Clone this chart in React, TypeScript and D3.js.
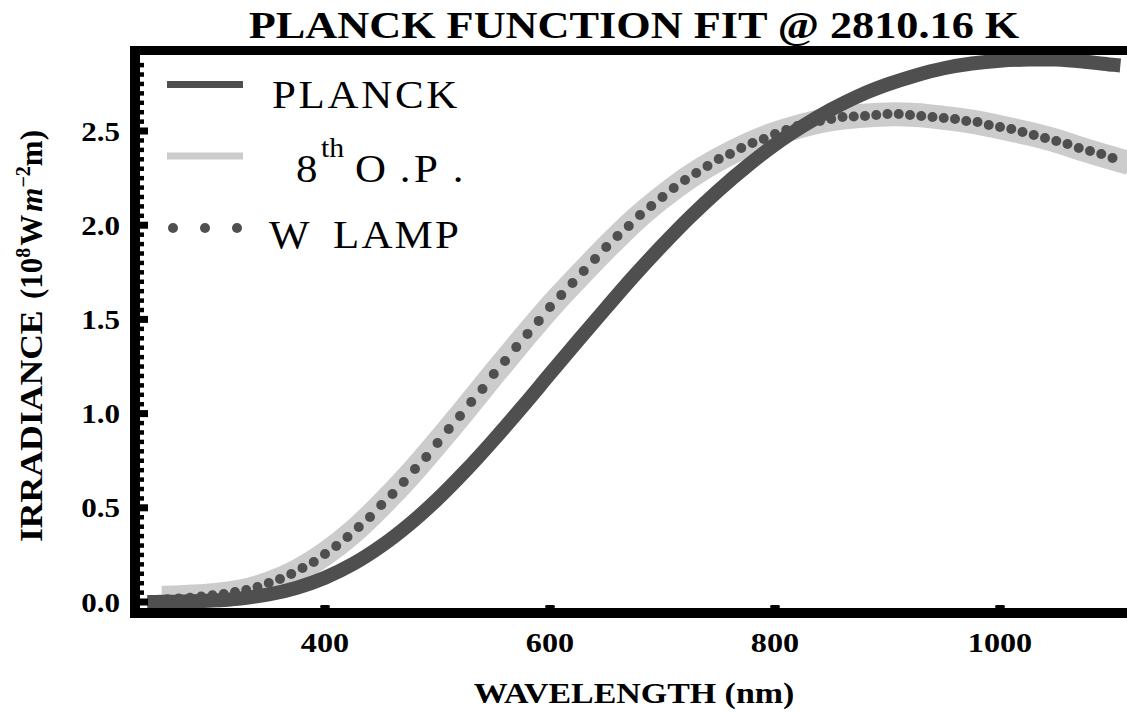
import React from 'react';
import * as d3 from 'd3';

const WIDTH = 1127;
const HEIGHT = 713;

// Planck curve, 1e8 W m^-2 m
const PLANCK_WL = [242, 250, 275, 300, 325, 350, 375, 400, 425, 450, 475, 500, 525, 550, 575, 600, 625, 650, 675, 700,
  725, 750, 775, 800, 825, 850, 875, 900, 925, 950, 975, 1000, 1025, 1050, 1075, 1100, 1107];
const PLANCK_VAL = [0.0003, 0.0006, 0.0025, 0.0076, 0.019, 0.040, 0.076, 0.129, 0.202, 0.297, 0.412, 0.546, 0.697, 0.861,
  1.033, 1.211, 1.388, 1.562, 1.733, 1.894, 2.046, 2.186, 2.313, 2.428, 2.527, 2.614, 2.688, 2.747, 2.795, 2.833,
  2.858, 2.873, 2.879, 2.879, 2.868, 2.852, 2.848];

// 8th order polynomial fit
const POLY_WL = [255, 275, 300, 325, 350, 375, 400, 425, 450, 475, 500, 525, 550, 575, 600, 625, 650, 675, 700, 725,
  750, 775, 800, 825, 850, 875, 900, 925, 950, 975, 1000, 1025, 1050, 1075, 1100, 1115];
const POLY_VAL = [0.022, 0.026, 0.036, 0.056, 0.098, 0.163, 0.255, 0.372, 0.515, 0.672, 0.845, 1.025, 1.21, 1.39,
  1.565, 1.725, 1.88, 2.025, 2.15, 2.26, 2.35, 2.425, 2.485, 2.53, 2.563, 2.58, 2.588, 2.585, 2.57, 2.55, 2.52,
  2.487, 2.448, 2.40, 2.355, 2.33];

// W lamp measurements
const LAMP_WL = [250, 260, 270, 280, 290, 300, 310, 320, 330, 340, 350, 360, 370, 380, 390, 400, 410, 420, 430, 440,
  450, 460, 470, 480, 490, 500, 510, 520, 530, 540, 550, 560, 570, 580, 590, 600, 610, 620, 630, 640,
  650, 660, 670, 680, 690, 700, 710, 720, 730, 740, 750, 760, 770, 780, 790, 800, 810, 820, 830, 840,
  850, 860, 870, 880, 890, 900, 910, 920, 930, 940, 950, 960, 970, 980, 990, 1000, 1010, 1020, 1030, 1040,
  1050, 1060, 1070, 1080, 1090, 1100];
const LAMP_VAL = [0.010, 0.014, 0.018, 0.023, 0.029, 0.036, 0.042, 0.053, 0.064, 0.080, 0.101, 0.122, 0.149, 0.180,
  0.212, 0.255, 0.297, 0.345, 0.398, 0.451, 0.515, 0.573, 0.637, 0.706, 0.770, 0.844, 0.918, 0.987, 1.062, 1.131,
  1.210, 1.279, 1.353, 1.423, 1.492, 1.566, 1.629, 1.693, 1.757, 1.821, 1.884, 1.943, 1.996, 2.054, 2.102, 2.150,
  2.197, 2.240, 2.277, 2.314, 2.351, 2.378, 2.410, 2.436, 2.458, 2.484, 2.505, 2.527, 2.542, 2.553, 2.564, 2.574,
  2.577, 2.580, 2.585, 2.590, 2.590, 2.585, 2.580, 2.574, 2.569, 2.564, 2.553, 2.548, 2.532, 2.521, 2.511, 2.495,
  2.479, 2.463, 2.447, 2.431, 2.410, 2.394, 2.378, 2.357];

const X_TICKS = [400, 600, 800, 1000];
const Y_TICKS = [0, 0.5, 1, 1.5, 2, 2.5];
const Y_TICK_LABELS = ['0.0', '0.5', '1.0', '1.5', '2.0', '2.5'];

const DARK = '#4f4f4f';
const LIGHT = '#cccccc';
const SERIF = "'Liberation Serif', 'Times New Roman', serif";
const STRETCH = 1.15;

// thin serif legend text, slightly widened
function LegendText({ text, x, y, size = 39, spacing = 2.5, anchor = 'start' }:
  { text: string; x: number; y: number; size?: number; spacing?: number; anchor?: string }) {
  return (
    <text transform={`translate(${x},${y}) scale(1.1,1)`} textAnchor={anchor} letterSpacing={spacing}
      fontFamily={SERIF} fontSize={size}>{text}</text>
  );
}

export default function App() {
  const x = d3.scaleLinear().domain([400, 1000]).range([325, 1000]);
  const y = d3.scaleLinear().domain([0, 2.5]).range([602, 131]);

  const line = d3.line<[number, number]>()
    .x(d => x(d[0]))
    .y(d => y(d[1]))
    .curve(d3.curveCatmullRom);

  const planck = line(PLANCK_WL.map((w, i) => [w, PLANCK_VAL[i]] as [number, number])) || '';
  const poly = line(POLY_WL.map((w, i) => [w, POLY_VAL[i]] as [number, number])) || '';

  // plot box
  const left = 140, top = 55, bottom = 608;
  const minorTicks = d3.range(0.05, 2.9, 0.05).filter(v => Math.abs(v * 2 - Math.round(v * 2)) > 0.01);

  return (
    <svg width={WIDTH} height={HEIGHT} style={{ position: 'absolute', left: 0, top: 0, background: '#fff' }}>
      <defs>
        <clipPath id="plot">
          <rect x={left} y={top} width={WIDTH - left} height={bottom - top} />
        </clipPath>
      </defs>

      <g clipPath="url(#plot)">
        <path d={poly} fill="none" stroke={LIGHT} strokeWidth={24} />
        <path d={planck} fill="none" stroke={DARK} strokeWidth={14} />
        {LAMP_WL.map((w, i) => (
          <circle key={w} cx={x(w)} cy={y(LAMP_VAL[i])} r={5} fill={DARK} />
        ))}
      </g>

      {/* frame */}
      <rect x={130} y={46} width={WIDTH - 130} height={9} fill="#000" />
      <rect x={130} y={46} width={10} height={572} fill="#000" />
      <rect x={130} y={608} width={WIDTH - 130} height={10} fill="#000" />

      {/* y ticks */}
      {minorTicks.map(v => (
        <rect key={'m' + v} x={left} y={y(v) - 2.2} width={4} height={4.5} fill="#000" />
      ))}
      {Y_TICKS.map((v, i) => (
        <g key={v}>
          <rect x={left} y={y(v) - 3.5} width={8} height={7} fill="#000" />
          <text transform={`translate(120,${y(v) + 9.5}) scale(${STRETCH},1)`} textAnchor="end"
            fontFamily={SERIF} fontWeight="bold" fontSize={27}>{Y_TICK_LABELS[i]}</text>
        </g>
      ))}

      {/* x ticks */}
      {X_TICKS.map(v => (
        <g key={v}>
          <rect x={x(v) - 5} y={bottom - 3} width={10} height={3} rx={1.5} fill="#000" />
          <text transform={`translate(${x(v)},652) scale(${STRETCH},1)`} textAnchor="middle"
            fontFamily={SERIF} fontWeight="bold" fontSize={28}>{v}</text>
        </g>
      ))}

      {/* title */}
      <text transform={`translate(634,38) scale(${STRETCH},1)`} textAnchor="middle"
        fontFamily={SERIF} fontWeight="bold" fontSize={38.5}>PLANCK FUNCTION FIT @ 2810.16 K</text>

      {/* axis labels */}
      <text transform={`translate(634,703) scale(${STRETCH},1)`} textAnchor="middle"
        fontFamily={SERIF} fontWeight="bold" fontSize={29.5}>WAVELENGTH (nm)</text>
      <text transform={`translate(42,542) rotate(-90) scale(${STRETCH},1)`} textAnchor="start"
        fontFamily={SERIF} fontWeight="bold" fontSize={31}>IRRADIANCE</text>
      <text transform="translate(42,130) rotate(-90)" textAnchor="end"
        fontFamily={SERIF} fontWeight="bold" fontSize={31}>
        (10<tspan dy={-12} fontSize={20}>8</tspan>
        <tspan dy={12} dx={2}>W</tspan>
        <tspan dx={3} fontStyle="italic">m</tspan>
        <tspan dy={-12} fontSize={20}>−2</tspan>
        <tspan dy={12}>m)</tspan>
      </text>

      {/* legend */}
      <line x1={167} x2={243} y1={84.5} y2={84.5} stroke={DARK} strokeWidth={7} />
      <line x1={167} x2={243} y1={156} y2={156} stroke={LIGHT} strokeWidth={7} />
      {[173, 205, 237].map(cx => (
        <circle key={cx} cx={cx} cy={228} r={5} fill={DARK} />
      ))}
      <LegendText text="PLANCK" x={272} y={108} />
      <LegendText text="8" x={296} y={182} spacing={0} />
      <LegendText text="th" x={321} y={157} size={27} spacing={0} />
      <LegendText text="O" x={355} y={182} spacing={0} />
      <LegendText text="." x={405} y={182} spacing={0} anchor="middle" />
      <LegendText text="P" x={414} y={182} spacing={0} />
      <LegendText text="." x={458} y={182} spacing={0} anchor="middle" />
      <LegendText text="W" x={269} y={248} spacing={0} />
      <LegendText text="LAMP" x={333} y={248} spacing={2} />
    </svg>
  );
}
